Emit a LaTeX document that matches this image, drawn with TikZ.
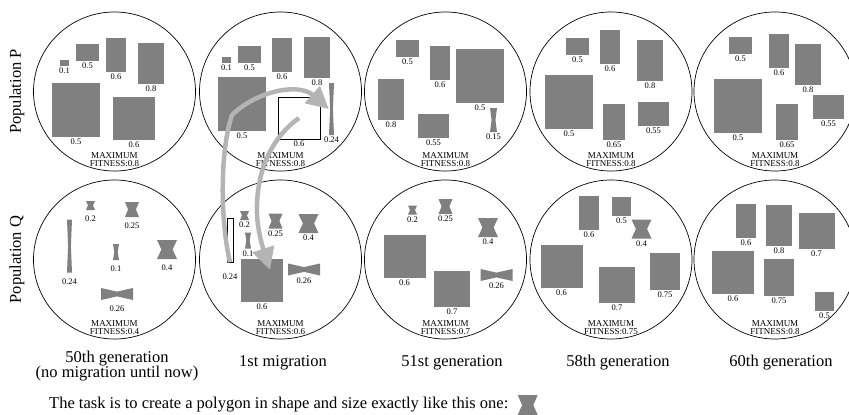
\documentclass[tikz,border=0pt]{standalone}
\usepackage{fontspec}
\setmainfont{Liberation Serif}
\usetikzlibrary{arrows.meta,positioning,shapes.geometric,calc}

\definecolor{genegray}{HTML}{808080}
\definecolor{arrowgray}{HTML}{B4B4B4}
\newcommand{\lblfont}{\fontsize{8.5}{9}\selectfont}
\newcommand{\fitfont}{\fontsize{9}{8.5}\selectfont}
\newcommand{\capfont}{\fontsize{16.5}{15.5}\selectfont}

\begin{document}
\begin{tikzpicture}[
    x=1pt, y=-1pt,
    pop/.style={ellipse, draw=black, line width=0.7pt, minimum width=162pt, minimum height=159pt, inner sep=0pt},
    gene/.style 2 args={rectangle, fill=genegray, minimum width=#1pt, minimum height=#2pt, inner sep=0pt},
    ghost/.style 2 args={rectangle, draw=black, line width=0.6pt, minimum width=#1pt, minimum height=#2pt, inner sep=0pt},
    glass/.style 2 args={rectangle, minimum width=#1pt, minimum height=#2pt, inner sep=0pt,
        path picture={\fill[genegray] (path picture bounding box.north west) -- (path picture bounding box.north east)
            -- ($(path picture bounding box.east)!0.22!(path picture bounding box.west)$)
            -- (path picture bounding box.south east) -- (path picture bounding box.south west)
            -- ($(path picture bounding box.west)!0.22!(path picture bounding box.east)$) -- cycle;}},
    bowtie/.style 2 args={rectangle, minimum width=#1pt, minimum height=#2pt, inner sep=0pt,
        path picture={\fill[genegray] (path picture bounding box.north west)
            -- ($(path picture bounding box.north)!0.3!(path picture bounding box.south)$)
            -- (path picture bounding box.north east) -- (path picture bounding box.south east)
            -- ($(path picture bounding box.south)!0.3!(path picture bounding box.north)$)
            -- (path picture bounding box.south west) -- cycle;}},
    every label/.style={font=\lblfont, inner sep=1.5pt},
    fitness/.style={align=center, font=\fitfont, inner sep=0pt},
    caption/.style={align=center, font=\capfont, inner sep=0pt},
    migrate/.style={draw=arrowgray, line width=4.5pt, -{Triangle[length=22pt, width=22pt]}}
]
\useasboundingbox (0,0) rectangle (849,415);

\foreach \cx/\fp/\fq [count=\i] in {114.5/0.8/0.4, 280.5/0.8/0.6, 445.5/0.8/0.7, 611/0.8/0.75, 775/0.8/0.8} {
    \node[pop] (ringp\i) at (\cx,91.5) {};
    \node[pop] (ringq\i) at (\cx,259.5) {};
    \node[fitness] (fitp\i) at (\cx,159.5) {MAXIMUM\\FITNESS:\fp};
    \node[fitness] (fitq\i) at (\cx,327.5) {MAXIMUM\\FITNESS:\fq};
}

\node[caption, rotate=90] (labp) at (17,91.5) {Population P};
\node[caption, rotate=90] (labq) at (17,259.5) {Population Q};

\node[gene={9}{6}, label=below:0.1] (p1a) at (64.5,63) {};
\node[gene={23}{17}, label=below:0.5] (p1b) at (87.5,52.5) {};
\node[gene={20}{34}, label=below:0.6] (p1c) at (116,55) {};
\node[gene={26}{41}, label=below:0.8] (p1d) at (151,63.5) {};
\node[gene={48}{54}, label=below:0.5] (p1e) at (76,110) {};
\node[gene={42}{43}, label=below:0.6] (p1f) at (134,118.5) {};

\node[gene={9}{6}, label=below:0.1] (p2a) at (226.5,60) {};
\node[gene={23}{17}, label=below:0.5] (p2b) at (249.5,54) {};
\node[gene={20}{34}, label=below:0.6] (p2c) at (282,55) {};
\node[gene={26}{41}, label=below:0.8] (p2d) at (317,57.5) {};
\node[gene={48}{54}, label=below:0.5] (p2e) at (242,104) {};
\node[ghost={42}{42}, label=below:0.6] (p2sq) at (299,118) {};
\node[glass={5}{52}, label=below:0.24] (p2bar) at (331.5,109) {};

\node[gene={23}{17}, label=below:0.5] (p3a) at (407.5,48) {};
\node[gene={20}{34}, label=below:0.6] (p3b) at (440,63) {};
\node[gene={48}{54}, label=below:0.5] (p3c) at (480,76) {};
\node[gene={26}{41}, label=below:0.8] (p3d) at (391,99.5) {};
\node[gene={31}{24}, label=below:0.55] (p3e) at (433.5,126) {};
\node[glass={7}{24}, label=below:0.15] (p3f) at (493.5,120) {};

\node[gene={23}{17}, label=below:0.5] (p4a) at (577.5,46) {};
\node[gene={20}{34}, label=below:0.6] (p4b) at (610,47) {};
\node[gene={26}{41}, label=below:0.8] (p4c) at (650,60.5) {};
\node[gene={48}{54}, label=below:0.5] (p4d) at (569,102) {};
\node[gene={22}{36}, label=below:0.65] (p4e) at (614,122) {};
\node[gene={31}{24}, label=below:0.55] (p4f) at (653.5,114) {};

\node[gene={23}{17}, label=below:0.5] (p5a) at (740.5,45) {};
\node[gene={20}{34}, label=below:0.6] (p5b) at (779,51) {};
\node[gene={26}{41}, label=below:0.8] (p5c) at (808,64.5) {};
\node[gene={48}{54}, label=below:0.5] (p5d) at (738,106) {};
\node[gene={22}{36}, label=below:0.65] (p5e) at (787,121.5) {};
\node[gene={31}{24}, label=below:0.55] (p5f) at (828.5,107) {};

\begin{scope}[label distance=4pt]
\node[glass={9}{9}, label=below:0.2] (q1a) at (90.5,205.5) {};
\node[glass={14}{15}, label=below:0.25] (q1b) at (132,209.5) {};
\node[glass={5}{53}, label=below:0.24] (q1c) at (69.5,246) {};
\node[glass={6}{16}, label=below:0.1] (q1d) at (116,252) {};
\node[glass={20}{19}, label=below:0.4] (q1e) at (167,249.5) {};
\node[bowtie={32}{12}, label=below:0.26] (q1f) at (117,294) {};
\end{scope}

\node[glass={9}{9}, label=below:0.2] (q2a) at (244.5,215.5) {};
\node[glass={14}{15}, label=below:0.25] (q2b) at (275.5,221) {};
\node[glass={20}{19}, label=below:0.4] (q2c) at (308.5,223.5) {};
\node[glass={6}{16}, label=below:0.1] (q2d) at (248,240.5) {};
\node[ghost={6}{44}, label={[label distance=10pt]below:0.24}] (q2bar) at (230,240) {};
\node[gene={42}{43}, label=below:0.6] (q2sq) at (262,280.5) {};
\node[bowtie={32}{12}, label=below:0.26] (q2e) at (304,269.5) {};

\node[glass={9}{9}, label=below:0.2] (q3a) at (412.5,210) {};
\node[glass={14}{15}, label=below:0.25] (q3b) at (445.5,206.5) {};
\node[glass={20}{19}, label=below:0.4] (q3c) at (488,227.5) {};
\node[gene={42}{43}, label=below:0.6] (q3d) at (404.5,256.5) {};
\node[gene={36}{36}, label=below:0.7] (q3e) at (452,289) {};
\node[bowtie={32}{12}, label=below:0.26] (q3f) at (496.5,275) {};

\node[gene={20}{34}, label=below:0.6] (q4a) at (589,212.5) {};
\node[gene={19}{19}, label=below:0.5] (q4b) at (621.5,206.5) {};
\node[glass={20}{19}, label=below:0.4] (q4c) at (641.5,229) {};
\node[gene={42}{43}, label=below:0.6] (q4d) at (561.5,266) {};
\node[gene={36}{36}, label=below:0.7] (q4e) at (617,284.5) {};
\node[gene={30}{37}, label=below:0.75] (q4f) at (665,271.5) {};

\node[gene={20}{34}, label=below:0.6] (q5a) at (746,220.5) {};
\node[gene={26}{41}, label=below:0.8] (q5b) at (779,225.5) {};
\node[gene={36}{36}, label=below:0.7] (q5c) at (816.5,231) {};
\node[gene={42}{43}, label=below:0.6] (q5d) at (733,272) {};
\node[gene={30}{37}, label=below:0.75] (q5e) at (779,277) {};
\node[gene={19}{19}, label=below:0.5] (q5f) at (824.5,301.5) {};

\node[caption] (gen50) at (117,366) {50th generation\\(no migration until now)};
\node[caption] (mig1) at (283,363) {1st migration};
\node[caption] (gen51) at (452,363) {51st generation};
\node[caption] (gen58) at (618,363) {58th generation};
\node[caption] (gen60) at (781,363) {60th generation};

\node[caption, anchor=west] (task) at (49,405) {The task is to create a polygon in shape and size exactly like this one:};
\node[glass={20}{20}, right=9pt of task] (target) {};

\draw[migrate] (q2bar.south) .. controls (220,220) and (220,150) .. (232,115) .. controls (255,92) and (298,82) .. (p2bar.west);
\draw[migrate] (p2sq.center) .. controls (275,135) and (258,165) .. (257,205) .. controls (256,225) and (262,245) .. ($(q2sq.north)+(8,11)$);

\end{tikzpicture}
\end{document}
